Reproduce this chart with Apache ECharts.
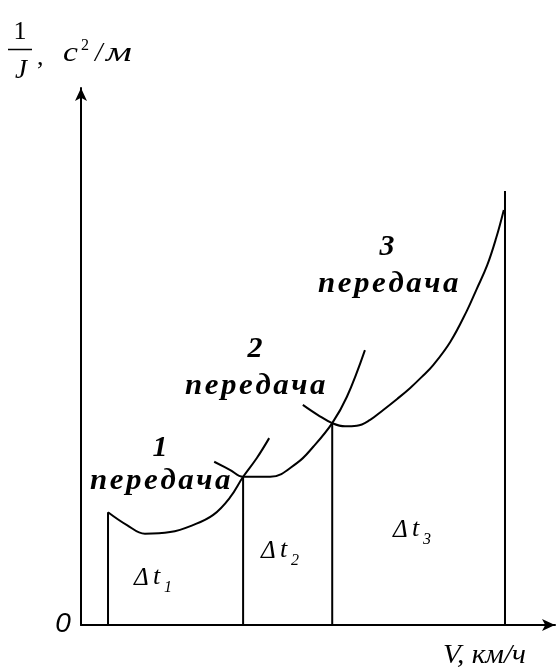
<!DOCTYPE html>
<html>
<head>
<meta charset="utf-8">
<script src="https://cdn.jsdelivr.net/npm/echarts@6/dist/echarts.min.js"></script>
<style>
  html, body { margin: 0; padding: 0; background: #fff; }
  #chart { width: 559px; height: 670px; }
</style>
</head>
<body>
<div id="chart"></div>
<script>
// Reciprocal acceleration 1/J versus speed V for each gear
const gear1V = [5.7, 9.7, 13.5, 18.8, 23.6, 27.9, 31.4, 34.2, 37.1, 39.7];
const gear1Y = [21.0, 18.6, 17.0, 17.3, 18.6, 20.5, 23.7, 27.6, 31.1, 34.8];

const gear2V = [28.1, 31.4, 34.2, 39.9, 45.6, 49.0, 53.0, 56.1, 59.9];
const gear2Y = [30.4, 28.9, 27.6, 27.6, 30.2, 33.2, 37.6, 42.5, 51.2];

const gear3V = [46.8, 50.0, 53.0, 55.7, 58.2, 61.0, 63.7, 66.7, 69.4, 71.9, 74.3, 77.9, 81.4, 83.5, 85.7, 87.6, 89.2];
const gear3Y = [41.0, 39.1, 37.6, 37.0, 37.1, 38.2, 40.0, 42.1, 44.1, 46.2, 48.4, 52.7, 58.5, 62.6, 67.0, 72.1, 77.3];

// Boundaries of the time intervals Δt1..Δt3
const boundaryV = [5.7, 34.2, 53.0, 89.45];
const boundaryTop = [21.0, 27.6, 37.6, 80.8];

const gearNames = ['1', '2', '3'];
const gearWord = 'передача';
const intervalNames = ['1', '2', '3'];

const zip = (xs, ys) => xs.map((x, i) => [x, ys[i]]);

const boundaryData = [];
boundaryV.forEach((x, i) => {
  boundaryData.push([x, 0], [x, boundaryTop[i]], '-');
});

const curveStyle = { color: '#000', width: 2 };
const serif = 'Liberation Serif';
const spaced = s => s.split('').join('\u200A');

function txt(x, y, text, size, opts) {
  opts = opts || {};
  return {
    type: 'text', x: x, y: y, silent: true,
    scaleX: opts.scaleX || 1,
    style: {
      text: text,
      fontFamily: opts.family || serif,
      fontSize: size,
      fontStyle: opts.style || 'italic',
      fontWeight: opts.weight || 'normal',
      fill: '#000',
      align: opts.align || 'center',
      verticalAlign: opts.valign || 'middle'
    }
  };
}

const gearLabelPos = [[160, 448, 90, 481], [255, 349, 185, 386], [387, 247, 318, 284]];
const intervalPos = [[134, 578], [261, 551], [393, 530]];

const graphics = [];
// y-axis title: 1/J, c²/м
graphics.push(txt(20, 32, '1', 26, { style: 'normal' }));
graphics.push({ type: 'line', silent: true, shape: { x1: 8, y1: 49.5, x2: 32, y2: 49.5 }, style: { stroke: '#000', lineWidth: 1.5 } });
graphics.push(txt(21, 71, 'J', 27));
graphics.push(txt(37, 58, ',', 26, { style: 'normal', align: 'left' }));
graphics.push(txt(63, 54, 'c', 28, { align: 'left', scaleX: 1.2 }));
graphics.push(txt(81, 46, '2', 16, { style: 'normal', align: 'left' }));
graphics.push(txt(95, 54, '/', 27, { align: 'left' }));
graphics.push(txt(106, 54, 'м', 27, { align: 'left', scaleX: 1.5 }));
// origin and x-axis title
graphics.push(txt(63, 624, '0', 28, { family: 'Liberation Sans' }));
graphics.push(txt(443, 656, 'V, км/ч', 27, { align: 'left', scaleX: 1.08 }));
// gear labels
gearNames.forEach((g, i) => {
  const p = gearLabelPos[i];
  graphics.push(txt(p[0], p[1], g, 30, { weight: 'bold' }));
  graphics.push(txt(p[2], p[3], spaced(gearWord), 30, { weight: 'bold', align: 'left', scaleX: 1.03 }));
});
// Δt labels
intervalNames.forEach((n, i) => {
  const p = intervalPos[i];
  graphics.push(txt(p[0], p[1], 'Δ', 25, { align: 'left' }));
  graphics.push(txt(p[0] + 19, p[1] - 1, 't', 26, { align: 'left' }));
  graphics.push(txt(p[0] + 30, p[1] + 10, n, 16, { align: 'left' }));
});

const axisCommon = {
  type: 'value', min: 0, max: 100,
  axisLine: { show: true, symbol: ['none', 'arrow'], symbolSize: [9, 13], lineStyle: { color: '#000', width: 2 } },
  axisTick: { show: false }, axisLabel: { show: false }, splitLine: { show: false }
};

const chart = echarts.init(document.getElementById('chart'), null, { renderer: 'canvas' });
chart.setOption({
  animation: false,
  backgroundColor: '#fff',
  grid: { left: 81, top: 88, right: 4, bottom: 45 },
  xAxis: Object.assign({}, axisCommon),
  yAxis: Object.assign({}, axisCommon),
  series: [
    { type: 'line', data: zip(gear1V, gear1Y), smooth: 0.4, showSymbol: false, lineStyle: curveStyle },
    { type: 'line', data: zip(gear2V, gear2Y), smooth: 0.4, showSymbol: false, lineStyle: curveStyle },
    { type: 'line', data: zip(gear3V, gear3Y), smooth: 0.4, showSymbol: false, lineStyle: curveStyle },
    { type: 'line', data: boundaryData, showSymbol: false, connectNulls: false, lineStyle: curveStyle }
  ],
  graphic: graphics
});
</script>
</body>
</html>
